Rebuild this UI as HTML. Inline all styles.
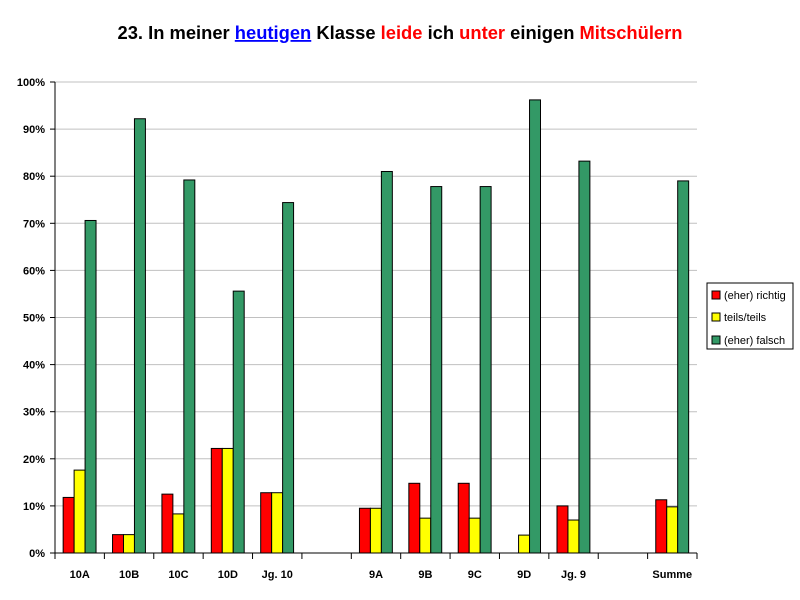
<!DOCTYPE html>
<html><head><meta charset="utf-8"><style>
body{margin:0;background:#fff;}
svg{display:block;font-family:"Liberation Sans",Arial,sans-serif;}
</style></head><body>
<svg width="800" height="600" id="c">
<text x="400" y="39" text-anchor="middle" font-size="18" font-weight="bold" textLength="565" lengthAdjust="spacingAndGlyphs"><tspan>23. In meiner </tspan><tspan fill="#0000ff" text-decoration="underline">heutigen</tspan><tspan> Klasse </tspan><tspan fill="#ff0000">leide</tspan><tspan> ich </tspan><tspan fill="#ff0000">unter</tspan><tspan> einigen </tspan><tspan fill="#ff0000">Mitschülern</tspan></text>
<g id="grid"></g><g id="bars"></g><g id="axes"></g>
<g>
<rect x="707" y="283" width="86" height="66" fill="#fff" stroke="#000"/>
<rect x="712" y="291" width="8" height="8" fill="#ff0000" stroke="#000"/>
<text x="724" y="299" font-size="11">(eher) richtig</text>
<rect x="712" y="313" width="8" height="8" fill="#ffff00" stroke="#000"/>
<text x="724" y="321" font-size="11">teils/teils</text>
<rect x="712" y="336" width="8" height="8" fill="#339966" stroke="#000"/>
<text x="724" y="344" font-size="11">(eher) falsch</text>
</g>
</svg>
<script>
const categories=["10A","10B","10C","10D","Jg. 10","","9A","9B","9C","9D","Jg. 9","","Summe"];
const richtig=[11.8,3.9,12.5,22.2,12.8,null,9.5,14.8,14.8,0,10,null,11.3];
const teils=[17.6,3.9,8.3,22.2,12.8,null,9.5,7.4,7.4,3.8,7,null,9.8];
const falsch=[70.6,92.2,79.2,55.6,74.4,null,81,77.8,77.8,96.2,83.2,null,79];
const yTicks=[0,10,20,30,40,50,60,70,80,90,100];
const NS="http://www.w3.org/2000/svg";
const X0=55,X1=697,Y0=553,Y1=82;
const cw=(X1-X0)/categories.length;
const y=v=>Y0-(v/100)*(Y0-Y1);
const xc=i=>X0+i*cw;
function mk(t,a,p){const e=document.createElementNS(NS,t);for(const k in a)e.setAttribute(k,a[k]);p.appendChild(e);return e;}
const grid=document.getElementById('grid'),bars=document.getElementById('bars'),axes=document.getElementById('axes');
yTicks.forEach(v=>{
 if(v>0){const g=mk('line',{x1:X0,x2:X1,y1:y(v),y2:y(v),stroke:'#c0c0c0'},grid);
 
 }
 mk('line',{x1:X0-5,x2:X0,y1:y(v),y2:y(v),stroke:'#000'},axes);
 const t=mk('text',{x:X0-10,y:y(v)+4,'text-anchor':'end','font-size':11,'font-weight':'bold'},axes);
 t.textContent=v+'%';
 
 
});
mk('line',{x1:X0,x2:X0,y1:Y1,y2:Y0,stroke:'#000'},axes);
mk('line',{x1:X0,x2:X1,y1:Y0,y2:Y0,stroke:'#000'},axes);
for(let i=0;i<=categories.length;i++)mk('line',{x1:xc(i),x2:xc(i),y1:Y0,y2:Y0+6,stroke:'#000'},axes);
const series=[[richtig,'#ff0000'],[teils,'#ffff00'],[falsch,'#339966']];
const bw=cw*0.222,off=cw*0.165;
categories.forEach((c,i)=>{
 if(c){const t=mk('text',{x:xc(i)+cw/2,y:Y0+25,'text-anchor':'middle','font-size':11,'font-weight':'bold'},axes);
 t.textContent=c;
 
 }
 series.forEach((s,j)=>{
  const v=s[0][i];if(v==null||v<=0)return;
  const r=mk('rect',{x:xc(i)+off+j*bw,y:y(v),width:bw,height:Y0-y(v),fill:s[1],stroke:'#000','stroke-width':1},bars);
  
  
 });
});
</script>
</body></html>
